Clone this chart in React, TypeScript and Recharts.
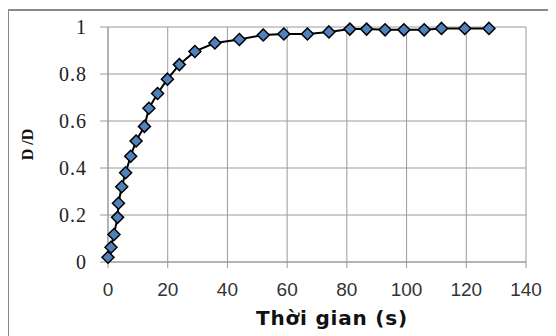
import React from "react";
import {
  LineChart,
  Line,
  XAxis,
  YAxis,
  CartesianGrid,
  Label,
} from "recharts";

// time (s) and D/D0 values
const times = [
  0, 1, 2, 3.2, 3.5, 4.6, 5.9, 7.6, 9.4, 12.2, 13.7, 16.6, 19.9, 23.9, 29.1,
  35.8, 44, 52, 58.9, 66.8, 74, 81, 86.6, 92.8, 99.1, 105.9, 111.7, 119.5,
  127.6,
];
const ratio = [
  0.02, 0.063, 0.117, 0.19, 0.25, 0.32, 0.38, 0.45, 0.515, 0.577, 0.654,
  0.717, 0.778, 0.84, 0.896, 0.932, 0.947, 0.966, 0.97, 0.97, 0.979, 0.991,
  0.991, 0.988, 0.988, 0.988, 0.994, 0.994, 0.994,
];
const xTicks = [0, 20, 40, 60, 80, 100, 120, 140];
const yTicks = [0, 0.2, 0.4, 0.6, 0.8, 1];

const data = times.map((t, i) => ({ t, v: ratio[i] }));

const Diamond = (props: any) => {
  const { cx, cy, index } = props;
  if (cx == null || cy == null) return null;
  const r = 6;
  return (
    <path
      key={index}
      d={`M${cx},${cy - r} L${cx + r},${cy} L${cx},${cy + r} L${cx - r},${cy} Z`}
      fill="#4f81bd"
      stroke="#000"
      strokeWidth={1.5}
    />
  );
};

const App = () => {
  return (
    <div
      style={{
        position: "relative",
        width: 556,
        height: 336,
        marginTop: -8,
        marginLeft: -8,
        overflow: "hidden",
        background: "#fff",
      }}
    >
      <div
        style={{
          position: "absolute",
          left: 7,
          top: 9,
          width: 640,
          height: 400,
          borderTop: "2px solid #8a8a8a",
          borderLeft: "2px solid #8a8a8a",
        }}
      />
      <div style={{ position: "absolute", left: 0, top: 0 }}>
        <LineChart
          width={556}
          height={336}
          data={data}
          margin={{ top: 27, right: 30, left: 0, bottom: 34 }}
        >
          <CartesianGrid stroke="#9a9a9a" strokeWidth={1} />
          <XAxis
            dataKey="t"
            type="number"
            domain={[0, 140]}
            ticks={xTicks}
            interval={0}
            height={40}
            stroke="#9a9a9a"
            tickSize={6}
            tickMargin={15}
            tick={{ fill: "#333", fontSize: 19, fontFamily: "Liberation Sans" }}
          >
            <Label
              value="Thời gian (s)"
              position="bottom"
              offset={9}
              dx={15}
              style={{
                fill: "#111",
                fontSize: 20,
                fontWeight: "bold",
                letterSpacing: 0.8,
                fontFamily: "DejaVu Sans",
              }}
            />
          </XAxis>
          <YAxis
            type="number"
            domain={[0, 1]}
            ticks={yTicks}
            interval={0}
            width={108}
            stroke="#9a9a9a"
            tickSize={8}
            tickMargin={13}
            tick={{
              fill: "#222",
              fontSize: 20,
              letterSpacing: 1,
              fontFamily: "Liberation Serif",
            }}
          >
            <Label
              value="D /D"
              angle={-90}
              position="insideLeft"
              offset={27}
              style={{
                fill: "#111",
                fontSize: 16,
                fontWeight: "bold",
                fontFamily: "Liberation Serif",
                textAnchor: "middle",
              }}
            />
          </YAxis>
          <Line
            type="linear"
            dataKey="v"
            stroke="#000"
            strokeWidth={2}
            dot={<Diamond />}
            isAnimationActive={false}
          />
        </LineChart>
      </div>
    </div>
  );
};

export default App;
